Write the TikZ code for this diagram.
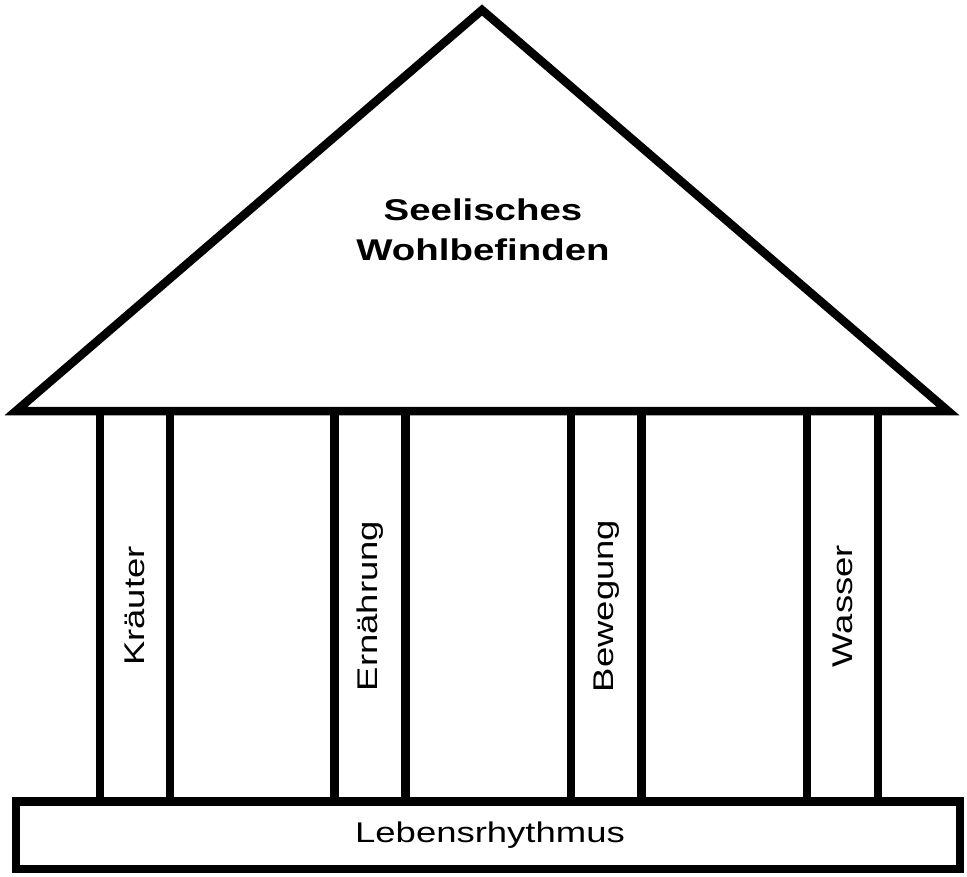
\documentclass[tikz,border=0pt]{standalone}
\usepackage{fontspec}
\setmainfont{Liberation Sans}[FakeStretch=1.28]
\usetikzlibrary{calc}

\tikzset{
  wall/.style={black, line width=8.5pt, line join=miter},
  lbl/.style={inner sep=0, font=\fontsize{28.5}{32}\selectfont},
  roofl/.style={inner sep=0, align=center, font=\bfseries\fontsize{30}{40}\selectfont}
}

\begin{document}
\begin{tikzpicture}[x=1pt,y=-1pt]
\useasboundingbox (0,0) rectangle (967,876);
% roof
\draw[wall] (16,411) -- (482,10) -- (948,411) -- cycle;
\node[roofl] (roof) at (483,230) {Seelisches\\Wohlbefinden};
% pillars
\foreach \l/\r/\txt [count=\i] in {100/170/Kräuter, 334.5/405.5/Ernährung, 571/641.5/Bewegung, 807/878/Wasser} {
 \draw[wall] (\l,411) --++(0,390);
 \draw[wall] (\r,411) --++(0,390);
 \node[lbl, rotate=90] (pillar\i) at ({(\l+\r)/2},606) {\txt};
}
% base
\draw[wall] (16,801.5) rectangle (960,869);
\node[lbl] (base) at (490,835) {Lebensrhythmus};
\end{tikzpicture}
\end{document}
